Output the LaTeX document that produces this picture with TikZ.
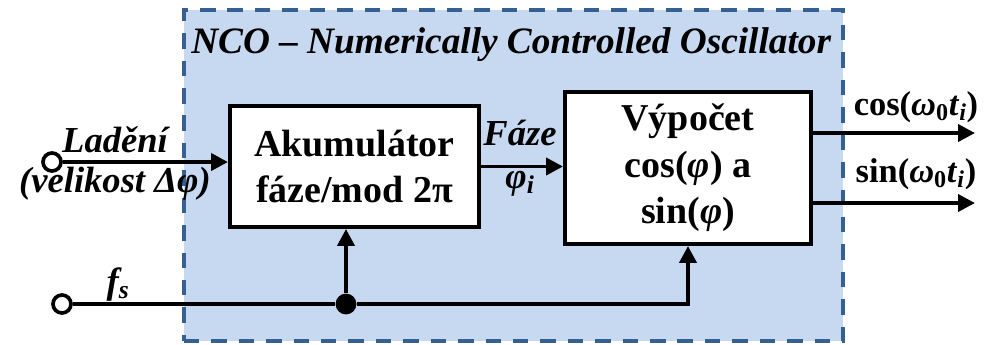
\documentclass[tikz,border=0pt]{standalone}
\usepackage{fontspec}
\setmainfont{Liberation Serif}
\usetikzlibrary{arrows.meta}

\definecolor{ncofill}{RGB}{198,217,241}
\definecolor{ncoline}{RGB}{54,96,146}

\tikzset{
  block/.style={draw,line width=2.8pt,fill=white,align=center,inner sep=0pt,
    font=\fontsize{27}{33}\selectfont\bfseries},
  label/.style={anchor=base,inner sep=0pt,font=\fontsize{26}{30}\selectfont\bfseries\itshape},
  outlabel/.style={anchor=base,inner sep=0pt,font=\fontsize{24.5}{30}\selectfont\bfseries},
  port/.style={circle,draw,line width=2.6pt,fill=white,minimum size=0.45cm,inner sep=0pt},
  junction/.style={circle,fill=black,minimum size=0.52cm,inner sep=0pt},
  sig/.style={line width=2.8pt,-{Triangle[length=12pt,width=12pt]}},
  wire/.style={line width=2.8pt}
}

\begin{document}
\begin{tikzpicture}[x=0.025cm,y=-0.025cm]
\useasboundingbox (0,0) rectangle (989,344);

\node [draw=ncoline,fill=ncofill,line width=2.8pt,dash pattern=on 11pt off 8.5pt,
  minimum width=16.475cm,minimum height=8.275cm,inner sep=0pt] (nco) at (513.5,175.5) {};
\node [anchor=base west,inner sep=0pt,font=\fontsize{26.5}{30}\selectfont\bfseries\itshape]
  (title) at (191,53) {NCO – Numerically Controlled Oscillator};

\node [block,minimum width=6.225cm,minimum height=3.025cm] (acc) at (354.5,166.5)
  {Akumulátor\\fáze/mod 2π};
\node [block,minimum width=6.15cm,minimum height=3.8cm] (calc) at (688,168)
  {Výpočet\\cos(\textit{φ}) a\\sin(\textit{φ})};

\node [port] (in) at (52,162) {};
\node [port] (fs) at (62,304) {};
\node [junction] (dot) at (346,304) {};
\coordinate (cosout) at (975,133);
\coordinate (sinout) at (975,203);

\draw [sig] (in) -- (in -| acc.west);
\draw [sig] (acc.east) -- (acc.east -| calc.west);
\draw [wire] (fs) -- (dot);
\draw [sig] (dot) -- (dot |- acc.south);
\draw [sig] (dot) -- (dot -| calc.south) -- (calc.south);
\draw [sig] (cosout -| calc.east) -- (cosout);
\draw [sig] (sinout -| calc.east) -- (sinout);

\node [label] (ladeni) at (115,152) {Ladění};
\node [label] (velikost) at (115,192) {(velikost Δφ)};
\node [label] (fslabel) at (118,293) {f\textsubscript{s}};
\node [label] (faze) at (520,145) {Fáze};
\node [label] (phii) at (520,188) {φ\textsubscript{i}};
\node [outlabel] (coslabel) at (916,115) {cos(\textit{ω}\textsubscript{0}\textit{t}\textsubscript{\textit{i}})};
\node [outlabel] (sinlabel) at (916,182) {sin(\textit{ω}\textsubscript{0}\textit{t}\textsubscript{\textit{i}})};

\end{tikzpicture}
\end{document}
